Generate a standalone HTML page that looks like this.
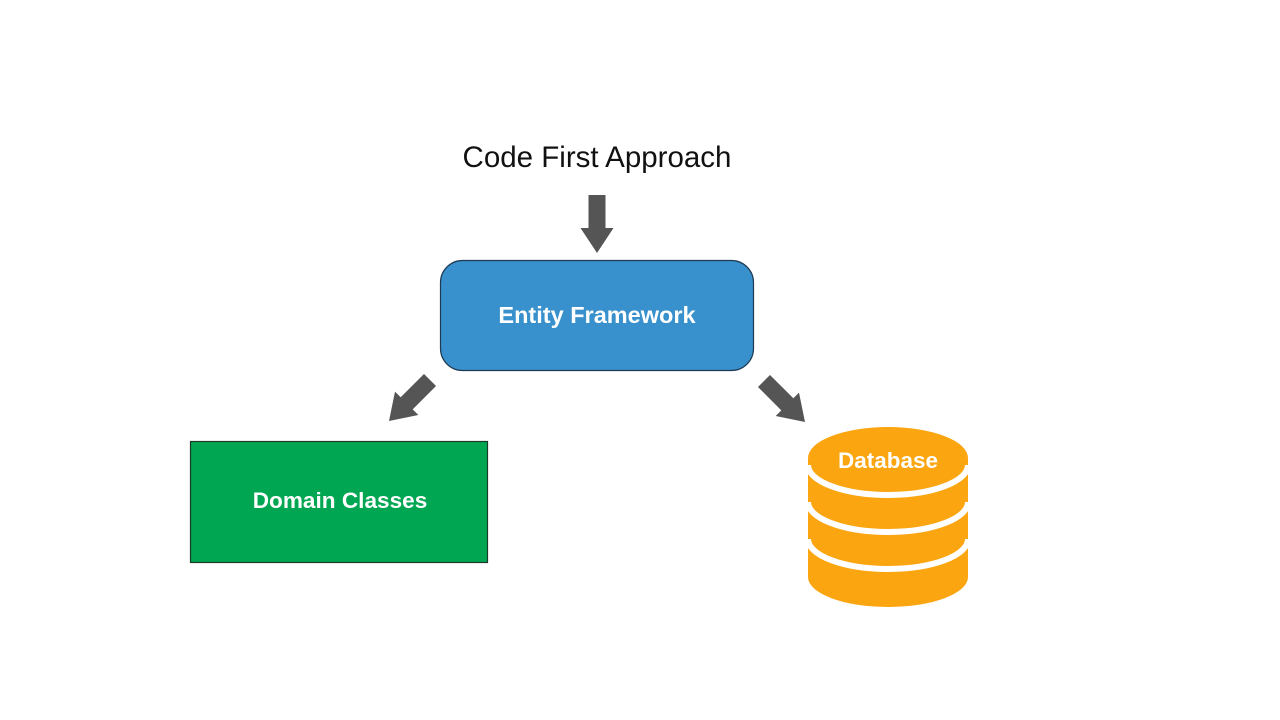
<!DOCTYPE html>
<html><head><meta charset="utf-8"><style>
html,body{margin:0;padding:0;background:#fff;}
svg{display:block;}
</style></head><body>
<svg width="1280" height="720" viewBox="0 0 1280 720" xmlns="http://www.w3.org/2000/svg">
<rect width="1280" height="720" fill="#fff"/>
<text x="597" y="167" text-anchor="middle" font-family="Liberation Sans, sans-serif" font-size="29.5" fill="#111">Code First Approach</text>
<defs>
<polygon id="arr" points="-8.5,-58 8.5,-58 8.5,-25 16.5,-25 0,0 -16.5,-25 -8.5,-25" fill="#555"/>
<clipPath id="cyl"><path d="M808,458 L808,577 A80,30 0 0 0 968,577 L968,458 A80,31 0 0 0 808,458 Z"/></clipPath>
</defs>
<use href="#arr" transform="translate(597,253)"/>
<use href="#arr" transform="translate(389,421) rotate(45)"/>
<use href="#arr" transform="translate(805,422) rotate(-45)"/>
<rect x="440.5" y="260.5" width="313" height="110" rx="22" fill="#3891CC" stroke="#1e3a52" stroke-width="1.2"/>
<text x="597" y="323" text-anchor="middle" font-family="Liberation Sans, sans-serif" font-weight="bold" font-size="23.5" fill="#fff">Entity Framework</text>
<rect x="190.5" y="441.5" width="297" height="121" fill="#00A651" stroke="#1a3a2a" stroke-width="1.2"/>
<text x="340" y="508" text-anchor="middle" font-family="Liberation Sans, sans-serif" font-weight="bold" font-size="22.6" fill="#fff">Domain Classes</text>
<g clip-path="url(#cyl)">
<rect x="800" y="420" width="180" height="200" fill="#FBA511"/>
<path d="M808,465 A80,30 0 0 0 968,465" fill="none" stroke="#fff" stroke-width="6"/>
<path d="M808,502 A80,30 0 0 0 968,502" fill="none" stroke="#fff" stroke-width="6"/>
<path d="M808,539 A80,30 0 0 0 968,539" fill="none" stroke="#fff" stroke-width="6"/>
</g>
<text x="888" y="468" text-anchor="middle" font-family="Liberation Sans, sans-serif" font-weight="bold" font-size="22.5" fill="#fff">Database</text>
</svg>
</body></html>
